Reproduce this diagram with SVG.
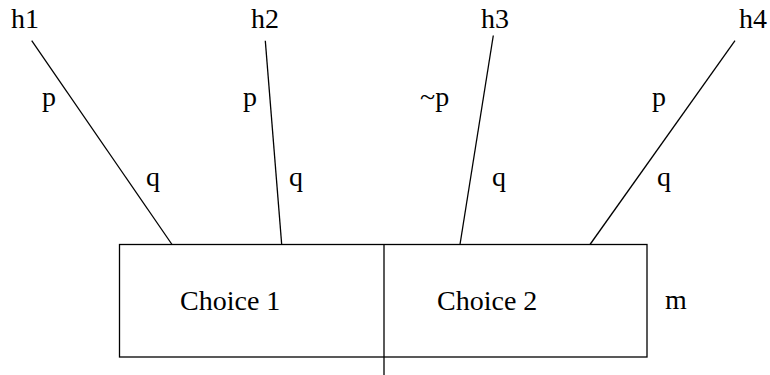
<svg xmlns="http://www.w3.org/2000/svg" width="770" height="375" viewBox="0 0 770 375">
<style>
text{font-family:"Liberation Serif","Times New Roman",serif;font-size:28px;fill:#000}
.ln{stroke:#000;stroke-width:1.3;fill:none}
</style>
<rect width="770" height="375" fill="#fff"/>
<g id="box">
<rect class="ln" x="119.5" y="244.5" width="527.5" height="112.5"/>
<text x="180" y="310">Choice 1</text>
<text x="437" y="310">Choice 2</text>
</g>
<g id="m"><text x="665" y="309">m</text></g>
<g id="h1"><text x="11" y="28">h1</text></g>
<g id="h2"><text x="251" y="28">h2</text></g>
<g id="h3"><text x="481" y="28">h3</text></g>
<g id="h4"><text x="739" y="28">h4</text></g>
<g id="connectors">
<line class="ln" x1="31.7" y1="40.7" x2="172" y2="244.5"/>
<line class="ln" x1="265.3" y1="40.7" x2="281.7" y2="244.5"/>
<line class="ln" x1="493.3" y1="35.5" x2="460" y2="244.5"/>
<line class="ln" x1="735" y1="40.7" x2="590" y2="244.5"/>
<line class="ln" x1="384" y1="244.5" x2="384" y2="375"/>
</g>
<g id="labels">
<text x="42" y="106">p</text>
<text x="146" y="186">q</text>
<text x="243" y="106">p</text>
<text x="289" y="186">q</text>
<text x="420" y="106">~p</text>
<text x="492" y="186">q</text>
<text x="652" y="106">p</text>
<text x="657" y="186">q</text>
</g>
</svg>
